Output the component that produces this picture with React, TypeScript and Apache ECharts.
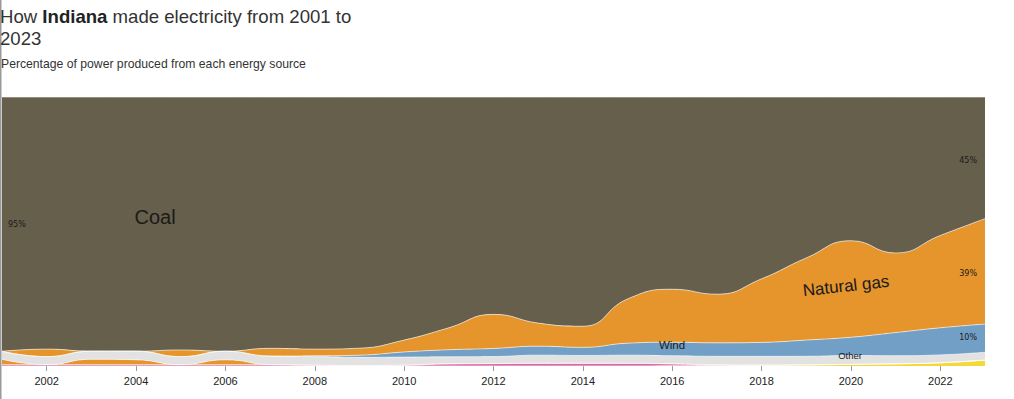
import React, { useEffect, useRef } from "react";
import * as echarts from "echarts";

const years = [
  "2001","2002","2003","2004","2005","2006","2007","2008","2009","2010","2011","2012",
  "2013","2014","2015","2016","2017","2018","2019","2020","2021","2022","2023",
];
const coal = [95, 94, 94.4, 94.4, 94.5, 94.8, 93.8, 94, 93, 90, 85.2, 80.4, 83.3, 84.8, 74.4, 71.1, 73.3, 67.8, 59.6, 53, 57.4, 51.1, 45];
const gasUpper = [0, 2.8, 0, 0, 2.5, 0, 2.9, 2.5, 2.6, 4.4, 8.1, 12.6, 8.5, 7.8, 16.3, 19.6, 18.1, 23.7, 30.4, 35.6, 29.3, 34.1, 39];
const gasLower = [2, 0, 2, 1.8, 0, 1.8, 0, 0, 0, 0, 0, 0, 0, 0, 0, 0, 0, 0, 0, 0, 0, 0, 0];
const wind = [0, 0, 0, 0, 0, 0, 0, 0.3, 0.8, 1.9, 2.6, 3, 3.3, 3, 4.4, 5, 5, 5.2, 6, 6.7, 8.5, 10, 10.4];
const other = [3, 3, 3, 3.2, 3, 3.2, 3.2, 3.2, 3, 3, 2.6, 2.6, 3, 2.9, 3, 3, 3.2, 3.3, 3.2, 3.3, 3, 2.9, 2.9];
const biomass = [0.5, 0.5, 0.5, 0.5, 0.5, 0.5, 0.5, 0.3, 0.2, 0.3, 0.8, 0.9, 1, 1, 1, 0.7, 0.2, 0, 0, 0, 0, 0, 0];
const solar = [0, 0, 0, 0, 0, 0, 0, 0, 0, 0, 0, 0, 0, 0, 0, 0.1, 0.2, 0.3, 0.4, 0.6, 0.8, 1.2, 2.2];

const COLORS = {
  coal: "#665f4b",
  gas: "#e5952b",
  wind: "#729fc6",
  other: "#e2e2e2",
  biomass: "#d96aa4",
  solar: "#f5d93a",
};

const FONT = "Liberation Sans, Arial, sans-serif";

export default function App() {
  const ref = useRef<HTMLDivElement>(null);
  useEffect(() => {
    document.body.style.margin = "0";
    if (!ref.current) return;
    const chart = echarts.init(ref.current, undefined, { renderer: "svg" });

    const layers = [
      { name: "Solar", data: solar, color: COLORS.solar },
      { name: "Biomass", data: biomass, color: COLORS.biomass },
      { name: "Natural gas (low)", data: gasLower, color: COLORS.gas },
      { name: "Other", data: other, color: COLORS.other },
      { name: "Wind", data: wind, color: COLORS.wind },
      { name: "Natural gas", data: gasUpper, color: COLORS.gas },
      { name: "Coal", data: coal, color: COLORS.coal },
    ];
    const totals = years.map((_, i) => layers.reduce((s, l) => s + l.data[i], 0));

    const evenIdx = (index: number) => index % 2 === 1;

    const label = (t: string, x: number, y: number, size: number, extra: any = {}) => ({
      type: "text",
      x,
      y,
      z: 100,
      ...extra,
      style: {
        text: t,
        fontSize: size,
        fontFamily: FONT,
        fill: "#1a1a1a",
        align: "center",
        verticalAlign: "middle",
        ...(extra.style || {}),
      },
    });

    chart.setOption({
      animation: false,
      grid: { left: 2, right: 29, top: 97, bottom: 33 },
      xAxis: {
        type: "category",
        data: years,
        boundaryGap: false,
        axisLine: { show: false },
        axisTick: { show: true, interval: evenIdx, length: 5, lineStyle: { color: "#999" } },
        axisLabel: {
          interval: evenIdx,
          color: "#222",
          fontSize: 11,
          fontFamily: FONT,
          margin: 9,
        },
        splitLine: { show: false },
      },
      yAxis: { type: "value", min: 0, max: 100, show: false },
      series: layers.map((l) => ({
        name: l.name,
        type: "line",
        stack: "total",
        smooth: 0.5,
        showSymbol: false,
        symbol: "none",
        data: l.data.map((v, i) => (v / totals[i]) * 100),
        lineStyle: { color: "#ffffff", width: 1, opacity: 0.6 },
        areaStyle: { color: l.color, opacity: 1 },
        emphasis: { disabled: true },
      })),
      graphic: [
        {
          type: "line",
          z: 100,
          shape: { x1: 0.5, y1: 0, x2: 0.5, y2: 399 },
          style: { stroke: "#9a9a9a", lineWidth: 2 },
        },
        {
          type: "text",
          left: 0,
          top: 5,
          z: 100,
          style: {
            text: "How {b|Indiana} made electricity from 2001 to\n2023",
            fontSize: 18.6,
            lineHeight: 22,
            fontFamily: FONT,
            fill: "#333",
            rich: {
              b: {
                fontSize: 18.6,
                fontWeight: "bold",
                fontFamily: FONT,
                fill: "#222",
                lineHeight: 22,
              },
            },
          },
        },
        {
          type: "text",
          left: 1,
          top: 58,
          z: 100,
          style: {
            text: "Percentage of power produced from each energy source",
            fontSize: 12.2,
            fontFamily: FONT,
            fill: "#333",
          },
        },
        label("Coal", 155, 217, 20),
        label("Natural gas", 846, 286, 17, { rotation: 0.11 }),
        label("Wind", 672, 345, 11.5),
        label("Other", 850, 355, 9.5),
        label("95%", 8, 224, 8, { style: { align: "left", fontFamily: "DejaVu Sans, sans-serif" } }),
        label("45%", 977, 160, 8, { style: { align: "right", fontFamily: "DejaVu Sans, sans-serif" } }),
        label("39%", 977, 273, 8, { style: { align: "right", fontFamily: "DejaVu Sans, sans-serif" } }),
        label("10%", 977, 337, 8, { style: { align: "right", fontFamily: "DejaVu Sans, sans-serif" } }),
      ],
    });
    return () => chart.dispose();
  }, []);
  return <div ref={ref} style={{ width: 1014, height: 399 }} />;
}
